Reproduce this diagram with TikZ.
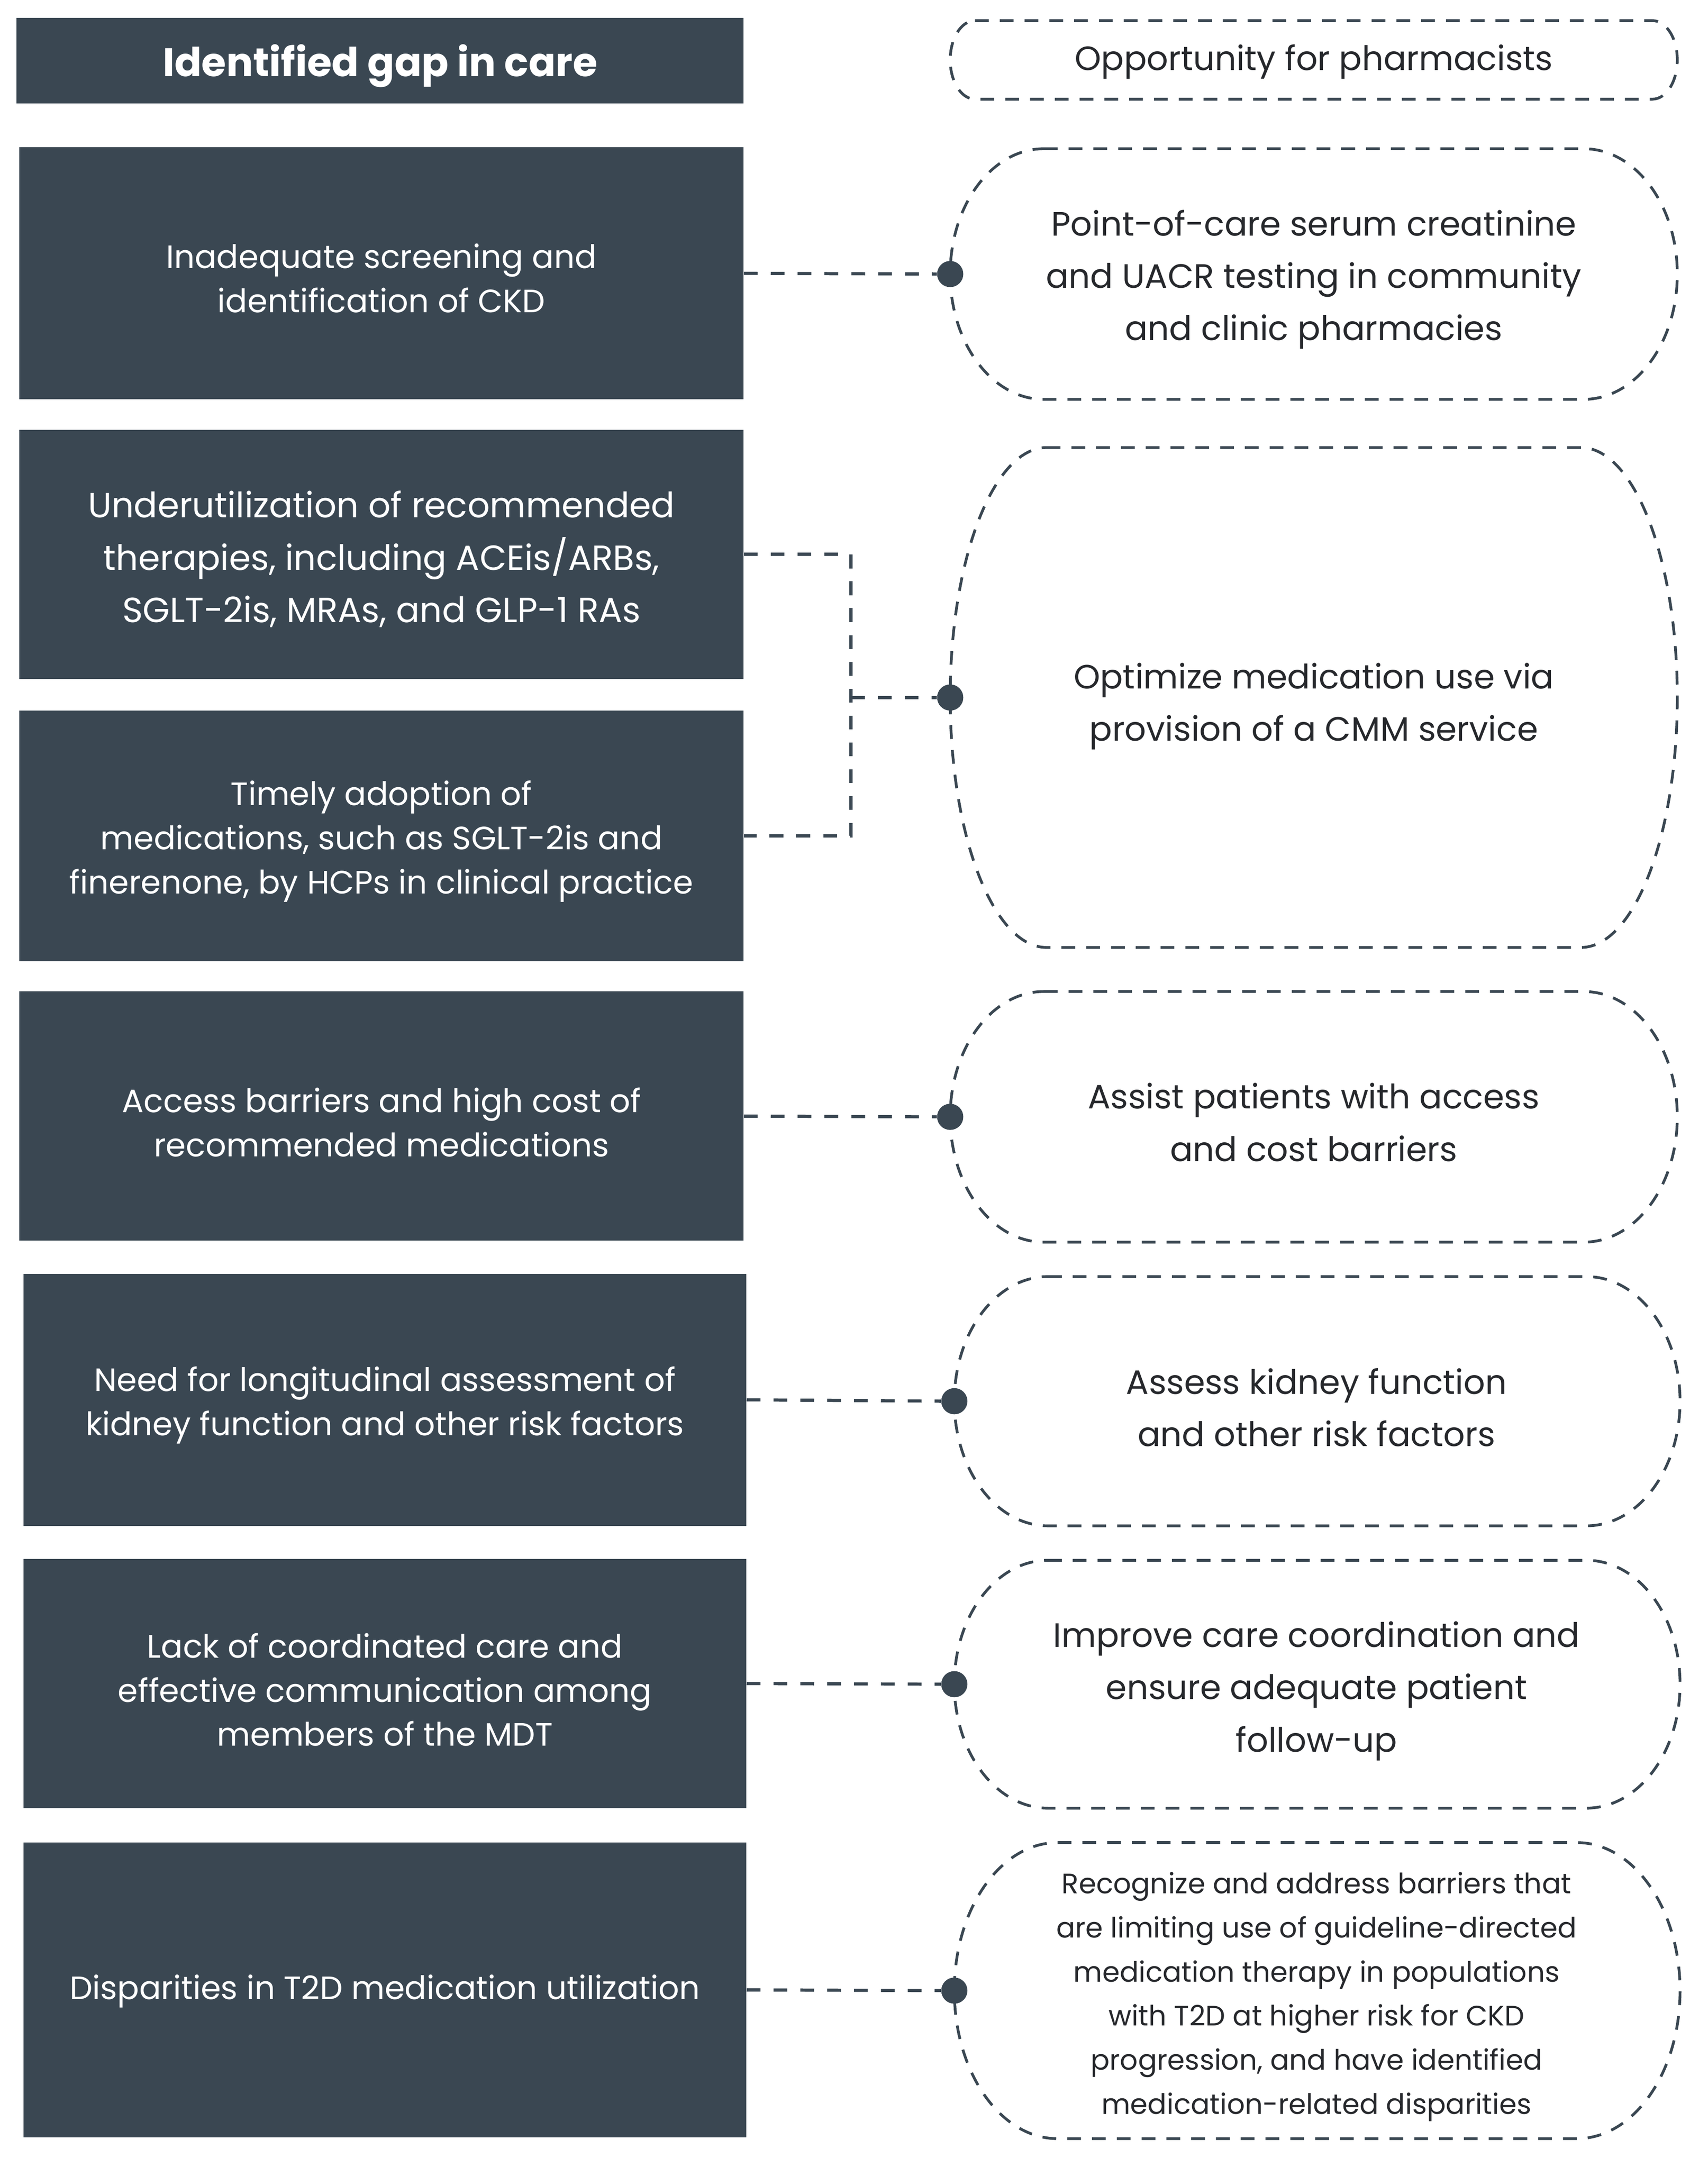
\documentclass[tikz,border=0pt]{standalone}
\usepackage{fontspec}
\setmainfont{Poppins}
\definecolor{slate}{RGB}{58,71,82}
\definecolor{ink}{RGB}{38,40,44}
\tikzset{
 gapbox/.style={fill=slate, draw=none, text=white, align=center, inner sep=0pt, font=\fontsize{23.5}{32}\selectfont},
 opptext/.style={text=ink, align=center, inner sep=0pt, font=\fontsize{24.5}{38}\selectfont},
 oppline/.style={draw=slate, line width=2pt, dash pattern=on 10pt off 8pt},
 conn/.style={draw=slate, line width=2.3pt, dash pattern=on 10pt off 9.5pt},
 joint/.style={circle, fill=slate, inner sep=0pt, minimum size=19pt},
}
% #1 name of west coordinate, #2 x0, #3 y0, #4 x1, #5 y1, #6 rx
\newcommand\oppoutline[6]{%
 \pgfmathsetmacro\oppry{(#5-#3)/2}%
 \pgfmathsetmacro\oppym{(#5+#3)/2}%
 \pgfmathsetmacro\oppk{0.5523*#6}%
 \pgfmathsetmacro\oppkk{0.5523*\oppry}%
 \draw[oppline] ({#2+#6},#3) -- ({#4-#6},#3)
   .. controls ({#4-#6+\oppk},#3) and (#4,{\oppym-\oppkk}) .. (#4,\oppym)
   .. controls (#4,{\oppym+\oppkk}) and ({#4-#6+\oppk},#5) .. ({#4-#6},#5)
   -- ({#2+#6},#5)
   .. controls ({#2+#6-\oppk},#5) and (#2,{\oppym+\oppkk}) .. (#2,\oppym)
   .. controls (#2,{\oppym-\oppkk}) and ({#2+#6-\oppk},#3) .. ({#2+#6},#3) -- cycle;
 \coordinate (#1) at (#2,\oppym);
}
\begin{document}
\begin{tikzpicture}[x=1pt,y=-1pt]
\useasboundingbox (0,0) rectangle (1240,1573.6);
\fill[white] (0,0) rectangle (1240,1573.6);

% left column: gaps in care
\node[gapbox, minimum width=528pt, minimum height=62pt] (hl) at (276,44) {};
\node[text=white, inner sep=0pt, font=\fontsize{29}{32}\selectfont\bfseries] (hlt) at (276,48) {Identified gap in care};
\node[gapbox, minimum width=526pt, minimum height=183pt] (b1) at (277,198.5) {};
\node[gapbox, minimum width=526pt, minimum height=181pt] (b2) at (277,402.5) {};
\node[gapbox, minimum width=526pt, minimum height=182pt] (b3) at (277,607) {};
\node[gapbox, minimum width=526pt, minimum height=181pt] (b4) at (277,810.5) {};
\node[gapbox, minimum width=525pt, minimum height=183pt] (b5) at (279.5,1016.5) {};
\node[gapbox, minimum width=525pt, minimum height=181pt] (b6) at (279.5,1222.5) {};
\node[gapbox, minimum width=525pt, minimum height=214pt] (b7) at (279.5,1445) {};

\node[gapbox, fill=none] (t1) at (277,202) {Inadequate screening and\\identification of CKD};
\node[gapbox, fill=none, font=\fontsize{25.4}{38}\selectfont] (t2) at (277,406) {Underutilization of recommended\\therapies, including ACEis/ARBs,\\SGLT-2is, MRAs, and GLP-1 RAs};
\node[gapbox, fill=none] (t3) at (277,611) {Timely adoption of\\medications, such as SGLT-2is and\\finerenone, by HCPs in clinical practice};
\node[gapbox, fill=none] (t4) at (277,815) {Access barriers and high cost of\\recommended medications};
\node[gapbox, fill=none] (t5) at (279.5,1020.5) {Need for longitudinal assessment of\\kidney function and other risk factors};
\node[gapbox, fill=none] (t6) at (279.5,1227) {Lack of coordinated care and\\effective communication among\\members of the MDT};
\node[gapbox, fill=none] (t7) at (279.5,1446) {Disparities in T2D medication utilization};

% right column: opportunities
\oppoutline{rhw}{690}{15}{1218}{72}{18}
\oppoutline{r1w}{690}{108}{1218}{290}{68}
\oppoutline{r2w}{690}{325}{1218}{688}{70}
\oppoutline{r3w}{690}{720}{1218}{902}{68}
\oppoutline{r4w}{693}{927}{1220}{1108}{68}
\oppoutline{r5w}{693}{1133}{1220}{1313}{68}
\oppoutline{r6w}{693}{1338}{1220}{1553}{75}

\node[opptext] (rh) at (954,45) {Opportunity for pharmacists};
\node[opptext] (r1) at (954,203) {Point-of-care serum creatinine\\and UACR testing in community\\and clinic pharmacies};
\node[opptext] (r2) at (954,513) {Optimize medication use via\\provision of a CMM service};
\node[opptext] (r3) at (954,815) {Assist patients with access\\and cost barriers};
\node[opptext] (r4) at (956,1022) {Assess kidney function\\and other risk factors};
\node[opptext] (r5) at (956,1228) {Improve care coordination and\\ensure adequate patient\\follow-up};
\node[opptext, font=\fontsize{20.4}{32}\selectfont] (r6) at (956,1450) {Recognize and address barriers that\\are limiting use of guideline-directed\\medication therapy in populations\\with T2D at higher risk for CKD\\progression, and have identified\\medication-related disparities};

% connectors
\node[joint] (d1) at (r1w) {};
\node[joint] (d2) at (r2w) {};
\node[joint] (d3) at (r3w) {};
\node[joint] (d4) at (r4w) {};
\node[joint] (d5) at (r5w) {};
\node[joint] (d6) at (r6w) {};
\coordinate (j) at (618,506.5);

\draw[conn] (b1.east) -- (d1);
\draw[conn] (b2.east) -| (j) |- (b3.east);
\draw[conn] (j) -- (d2);
\draw[conn] (b4.east) -- (d3);
\draw[conn] (b5.east) -- (d4);
\draw[conn] (b6.east) -- (d5);
\draw[conn] (b7.east) -- (d6);
\end{tikzpicture}
\end{document}
